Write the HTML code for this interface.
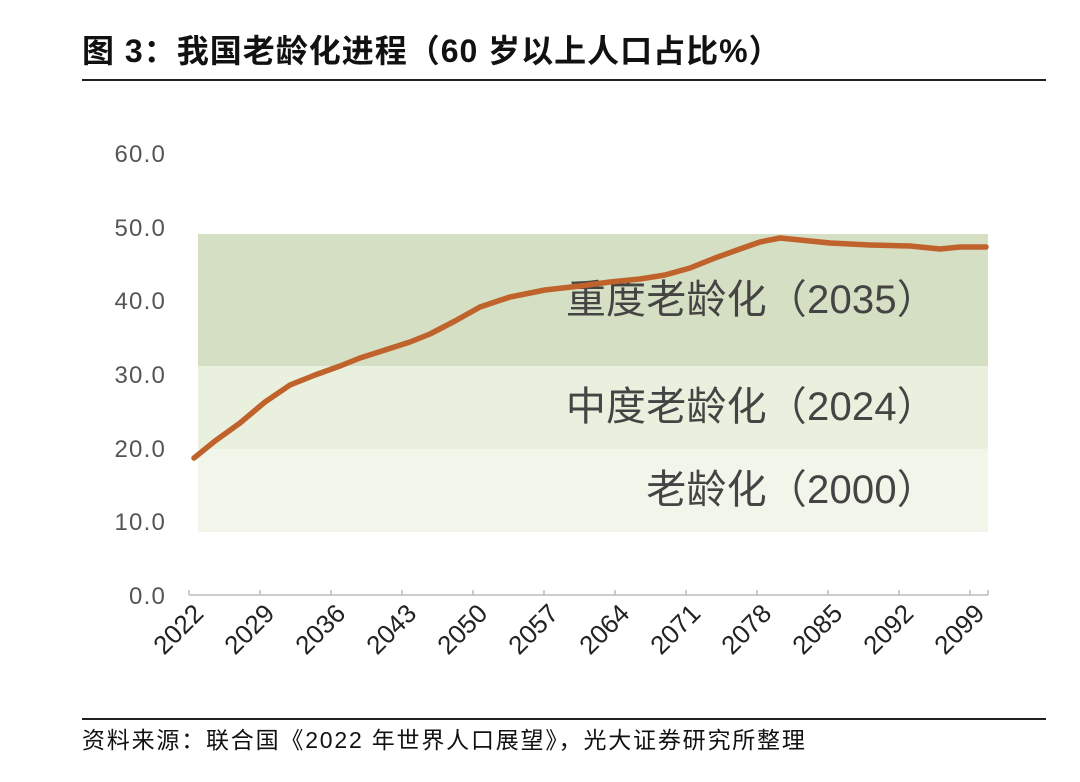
<!DOCTYPE html>
<html><head><meta charset="utf-8"><style>
body{margin:0;background:#fff;width:1080px;height:782px;overflow:hidden;font-family:"Liberation Sans","Noto Sans CJK SC",sans-serif}
</style></head><body>
<svg width="1080" height="782" xmlns="http://www.w3.org/2000/svg" style="position:absolute;left:0;top:0">
<text x="82" y="62" font-size="32" letter-spacing="1" font-weight="bold" fill="#111" font-family="Liberation Sans,Noto Sans CJK SC,sans-serif">图 3：我国老龄化进程（60 岁以上人口占比%）</text>
<rect x="82" y="79" width="964" height="2" fill="#222"/>
<rect x="198" y="234" width="790" height="132" fill="#d5dfc3"/>
<rect x="198" y="366" width="790" height="83" fill="#eaf0de"/>
<rect x="198" y="449" width="790" height="83" fill="#f2f5ea"/>
<g font-size="40" letter-spacing="0.2" fill="#444" text-anchor="end" font-family="Liberation Sans,Noto Sans CJK SC,sans-serif">
<text x="937" y="313">重度老龄化（2035）</text>
<text x="937" y="420">中度老龄化（2024）</text>
<text x="937" y="503">老龄化（2000）</text>
</g>
<g font-size="24" letter-spacing="1.2" fill="#555" text-anchor="end" font-family="Liberation Sans,sans-serif">
<text x="166" y="162">60.0</text><text x="166" y="236">50.0</text><text x="166" y="309">40.0</text>
<text x="166" y="383">30.0</text><text x="166" y="457">20.0</text><text x="166" y="530">10.0</text><text x="166" y="604">0.0</text>
</g>
<line x1="189" y1="595" x2="988" y2="595" stroke="#bbb" stroke-width="1.5"/>
<g stroke="#bbb" stroke-width="1.5">
<line x1="189" y1="590" x2="189" y2="595"/><line x1="260" y1="590" x2="260" y2="595"/><line x1="331" y1="590" x2="331" y2="595"/><line x1="402" y1="590" x2="402" y2="595"/><line x1="473" y1="590" x2="473" y2="595"/><line x1="544" y1="590" x2="544" y2="595"/><line x1="615" y1="590" x2="615" y2="595"/><line x1="686" y1="590" x2="686" y2="595"/><line x1="757" y1="590" x2="757" y2="595"/><line x1="828" y1="590" x2="828" y2="595"/><line x1="899" y1="590" x2="899" y2="595"/><line x1="970" y1="590" x2="970" y2="595"/><line x1="988" y1="590" x2="988" y2="595"/>
</g>
<g font-size="26" fill="#222" text-anchor="end" font-family="Liberation Sans,sans-serif">
<text transform="translate(205,615) rotate(-45)">2022</text>
<text transform="translate(276,615) rotate(-45)">2029</text>
<text transform="translate(347,615) rotate(-45)">2036</text>
<text transform="translate(418,615) rotate(-45)">2043</text>
<text transform="translate(489,615) rotate(-45)">2050</text>
<text transform="translate(560,615) rotate(-45)">2057</text>
<text transform="translate(631,615) rotate(-45)">2064</text>
<text transform="translate(702,615) rotate(-45)">2071</text>
<text transform="translate(773,615) rotate(-45)">2078</text>
<text transform="translate(844,615) rotate(-45)">2085</text>
<text transform="translate(915,615) rotate(-45)">2092</text>
<text transform="translate(986,615) rotate(-45)">2099</text>
</g>
<polyline fill="none" stroke="#c0622c" stroke-width="5.5" stroke-linejoin="round" stroke-linecap="round"
points="194,458 215,441 240,423 265,402 290,385 315,375 340,366 360,358 385,350 410,342 430,334 455,321 480,307 510,297 545,290 580,286 610,282 640,279 665,275 690,268 715,258 740,249 760,242 780,238 800,240 830,243 870,245 910,246 940,249 960,247 986,247"/>
<rect x="82" y="718" width="964" height="2" fill="#222"/>
<text x="82" y="748" font-size="23" letter-spacing="1.8" fill="#111" font-family="Liberation Sans,Noto Sans CJK SC,sans-serif">资料来源：联合国《2022 年世界人口展望》，光大证券研究所整理</text>
</svg>
</body></html>
